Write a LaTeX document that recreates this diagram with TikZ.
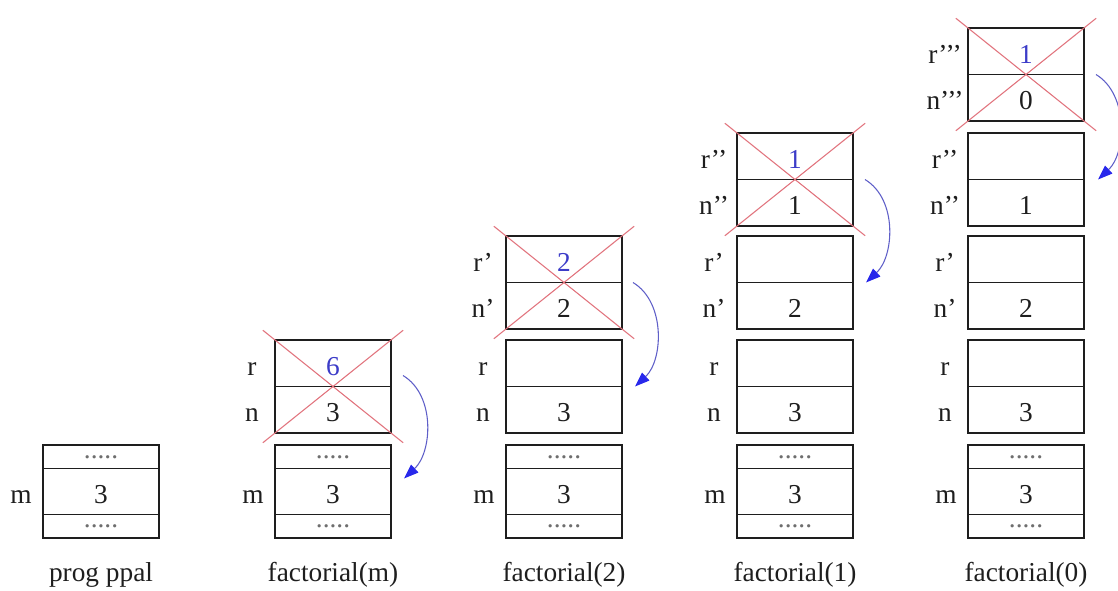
\documentclass[tikz,border=0pt]{standalone}
\usepackage{fontspec}
\setmainfont{Liberation Serif}
\usetikzlibrary{calc,arrows.meta}
\definecolor{inkc}{RGB}{30,30,30}
\definecolor{valblue}{RGB}{60,60,200}
\definecolor{crossred}{RGB}{225,115,125}
\definecolor{arcblue}{RGB}{95,95,200}
\definecolor{tipblue}{RGB}{40,40,235}
\definecolor{dotgray}{RGB}{110,110,110}
\tikzset{
  txt/.style={font=\fontsize{20.5pt}{24pt}\selectfont, text=inkc, inner sep=0pt, outer sep=0pt},
  cell/.style={txt, draw=inkc, line width=0.9pt, minimum width=87pt, minimum height=34.875pt, text height=18pt, text depth=0pt},
  mcell/.style={cell, minimum height=34.5pt},
  dcell/.style={cell, minimum height=17.625pt, text height=2pt, text=dotgray},
  lbl/.style={txt, text height=18pt, text depth=0pt},
  captxt/.style={txt, anchor=base},
  crossline/.style={draw=crossred, line width=0.8pt},
  callarc/.style={draw=arcblue, line width=0.8pt, -{Triangle[length=11pt,width=8pt,fill=tipblue,color=tipblue]}}
}
% pair of cells r/n : #1 prefix, #2 x, #3 y top, #4 r label, #5 n label, #6 r value, #7 n value
\newcommand\rnpair[7]{%
  \node[cell, anchor=north west] (#1r) at (#2,#3) {#6};
  \node[cell, anchor=north] (#1n) at (#1r.south) {#7};
  \node[lbl] (#1rl) at ($(#1r.west)+(-23,0)$) {#4};
  \node[lbl] (#1nl) at ($(#1n.west)+(-23,0)$) {#5};
}
% main program block : #1 prefix, #2 x
\newcommand\mainblock[2]{%
  \node[dcell, anchor=north west] (#1a) at (#2,445) {.....};
  \node[mcell, anchor=north] (#1m) at (#1a.south) {3};
  \node[dcell, anchor=north] (#1b) at (#1m.south) {.....};
  \node[lbl] (#1ml) at ($(#1m.west)+(-22,0)$) {m};
}
\newcommand\crossout[1]{%
  \draw[crossline] ($(#1r.north west)!-0.105!(#1n.south east)$) -- ($(#1n.south east)!-0.105!(#1r.north west)$);
  \draw[crossline] ($(#1r.north east)!-0.105!(#1n.south west)$) -- ($(#1n.south west)!-0.105!(#1r.north east)$);
}
\newcommand\bv[1]{\textcolor{valblue}{#1}}
\begin{document}
\begin{tikzpicture}[x=0.75pt,y=-0.75pt]
\useasboundingbox (0,0) rectangle (1118,591);
\coordinate (capy) at (0,581);

% column 1: prog ppal
\mainblock{pa}{43}
\node[captxt] (capa) at (pam.south |- capy) {prog ppal};

% column 2: factorial(m)
\mainblock{pb}{275}
\rnpair{pbk}{275}{340}{r}{n}{\bv{6}}{3}
\crossout{pbk}
\node[captxt] (capb) at (pbm.south |- capy) {factorial(m)};

% column 3: factorial(2)
\mainblock{pc}{506}
\rnpair{pck}{506}{340}{r}{n}{}{3}
\rnpair{pcj}{506}{236}{r’}{n’}{\bv{2}}{2}
\crossout{pcj}
\node[captxt] (capc) at (pcm.south |- capy) {factorial(2)};

% column 4: factorial(1)
\mainblock{pd}{737}
\rnpair{pdk}{737}{340}{r}{n}{}{3}
\rnpair{pdj}{737}{236}{r’}{n’}{}{2}
\rnpair{pdi}{737}{133}{r’’}{n’’}{\bv{1}}{1}
\crossout{pdi}
\node[captxt] (capd) at (pdm.south |- capy) {factorial(1)};

% column 5: factorial(0)
\mainblock{pe}{968}
\rnpair{pek}{968}{340}{r}{n}{}{3}
\rnpair{pej}{968}{236}{r’}{n’}{}{2}
\rnpair{pei}{968}{133}{r’’}{n’’}{}{1}
\rnpair{peh}{968}{28}{r’’’}{n’’’}{\bv{1}}{0}
\crossout{peh}
\node[captxt] (cape) at (pem.south |- capy) {factorial(0)};

% return arcs
\coordinate (sb) at ($(pbkr.south east)+(12,-11)$);
\coordinate (eb) at ($(pbm.north east)+(13,10)$);
\draw[callarc] (sb) .. controls ($(sb)+(33,20)$) and ($(eb)+(28,-26)$) .. (eb);

\coordinate (sc) at ($(pcjr.south east)+(11,0)$);
\coordinate (ec) at ($(pckr.south east)+(13,0)$);
\draw[callarc] (sc) .. controls ($(sc)+(33,20)$) and ($(ec)+(28,-26)$) .. (ec);

\coordinate (sd) at ($(pdir.south east)+(12,0)$);
\coordinate (ed) at ($(pdjr.south east)+(13,0)$);
\draw[callarc] (sd) .. controls ($(sd)+(33,20)$) and ($(ed)+(28,-26)$) .. (ed);

\coordinate (se) at ($(pehr.south east)+(12,0)$);
\coordinate (ee) at ($(peir.south east)+(14,0)$);
\draw[callarc] (se) .. controls ($(se)+(33,20)$) and ($(ee)+(28,-26)$) .. (ee);
\end{tikzpicture}
\end{document}
